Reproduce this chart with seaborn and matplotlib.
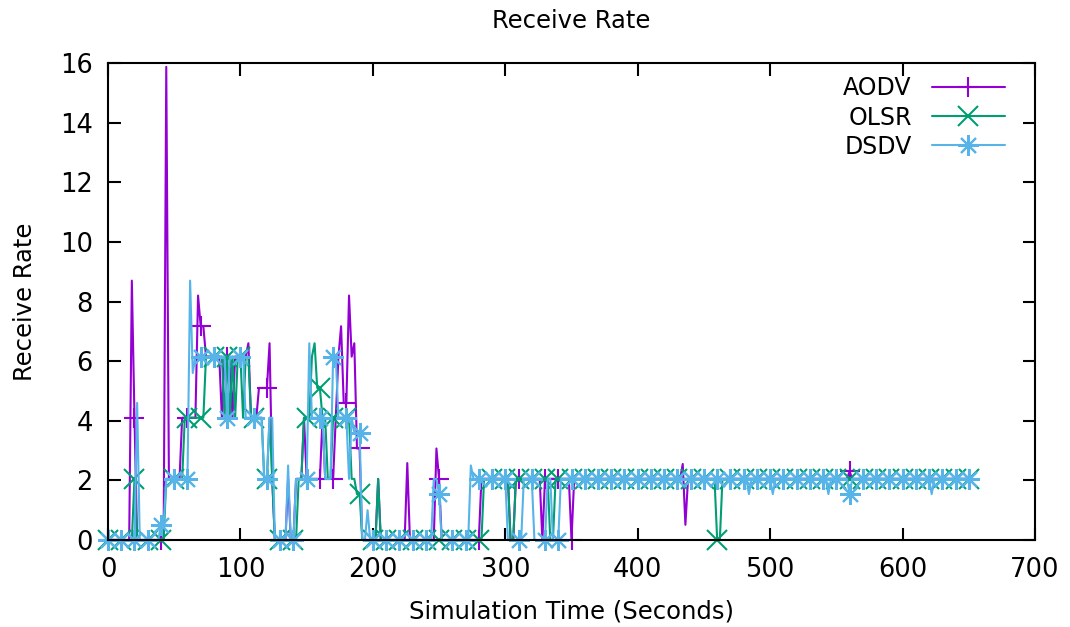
import numpy as np
import pandas as pd
import matplotlib
matplotlib.use("Agg")
import matplotlib.pyplot as plt
import seaborn as sns

# ---------------- DATA (one sample every 2 s, rows of 50 s) ----------------
time_s = np.arange(0, 651, 2)

aodv = (
    [0, 0, 0, 0, 0, 0, 0, 0, 0, 8.7, 4.1, 0, 0, 0, 0, 0, 0, 0, 0, 0, 0, 0, 15.87, 2.05, 2.05]
    + [2.05, 2.05, 2.05, 4.1, 4.1, 4.1, 4.1, 4.1, 4.1, 8.2, 7.17, 7.17, 6.15, 6.15, 6.15, 6.15, 6.15, 6.15, 4.1, 6.15, 6.15, 6.15, 4.1, 6.15, 6.15]
    + [6.15, 6.15, 6.15, 6.6, 4.1, 4.1, 4.1, 5.1, 5.1, 5.1, 5.1, 6.6, 2.05, 0, 0, 0, 0, 0, 2.05, 0, 0, 2.05, 2.05, 2.05, 4.1]
    + [2.05, 2.05, 2.05, 2.05, 2.05, 2.05, 4.1, 2.05, 2.05, 2.05, 2.05, 4.1, 6.15, 7.17, 4.6, 4.6, 8.2, 6.15, 6.6, 3.07, 3.07, 0, 0, 0, 0]
    + [0, 0, 2.05, 0, 0, 0, 0, 0, 0, 0, 0, 0, 0, 2.58, 0, 0, 0, 0, 0, 0, 0, 0, 0, 0, 3.07]
    + [2.05] + [0] * 15 + [2.05] * 9
    + [2.05, 2.05, 0, 0] + [2.05] * 10 + [0] + [2.05] * 10
    + [0] + [2.05] * 24
    + [2.05] * 17 + [2.55, 0.51] + [2.05] * 6
    + [2.05] * 25
    + [2.05] * 25
    + [2.05] * 5 + [2.3] + [2.05] * 19
    + [2.05] * 25
    + [2.05]
)

olsr = (
    [0] * 10 + [2.05] + [0] * 11 + [2.05] * 3
    + [2.05, 2.05, 2.05, 2.05, 4.1, 4.1, 4.1, 4.1, 4.1, 4.1, 4.1, 4.1, 6.15, 6.15, 6.15, 6.15, 6.15, 6.15, 6.15, 4.1, 6.15, 4.1, 6.15, 4.1, 6.15]
    + [6.15, 4.1, 6.15, 6.15, 4.1, 4.1, 4.1, 4.1, 4.1, 2.05, 2.05, 4.1, 2.05, 0, 0, 0, 0, 0, 0, 0, 0, 0, 2.05, 2.05, 4.1]
    + [4.1, 4.1, 6.15, 6.6, 5.1, 5.1, 4.1, 4.1, 2.05, 2.05, 4.1, 4.1, 4.1, 4.1, 4.1, 4.1, 4.1, 2.05, 2.05, 1.54, 1.54, 0, 0, 0, 0]
    + [0, 0, 2.05] + [0] * 22
    + [0] * 17 + [2.05] * 8
    + [2.05, 2.05, 0, 0] + [2.05] * 13 + [0, 0] + [2.05] * 6
    + [2.05] * 25
    + [2.05] * 25
    + [2.05] * 5 + [0, 0] + [2.05] * 18
    + [2.05] * 25
    + [2.05] * 25
    + [2.05] * 25
    + [2.05]
)

dsdv = (
    [0] * 11 + [4.6] + [0] * 8 + [0.51, 0.51] + [2.05] * 3
    + [2.05] * 6 + [8.7, 5.6] + [6.15] * 12 + [4.1] + [6.15] * 4
    + [6.15, 6.15, 4.1, 4.1, 4.1, 4.1, 4.1, 4.1, 4.1, 2.05, 2.05, 4.1, 4.1, 0, 0, 0, 0, 0, 2.5, 0, 0, 2.05, 2.05, 2.05, 2.05]
    + [2.05, 6.6, 4.1, 4.1, 4.1, 4.1, 4.1, 2.05, 2.05, 2.05, 6.15, 6.15, 4.1, 4.1, 4.1, 4.1, 2.05, 4.1, 3.6, 3.6, 3.6, 0, 0, 1.0, 0]
    + [0] * 23 + [2.05, 2.05]
    + [1.54] + [0] * 11 + [2.5] + [2.05] * 12
    + [2.05, 0, 0, 0, 0, 0, 0, 2.05, 2.05, 2.05, 2.05, 0, 0, 0, 0, 0, 2.05, 2.05, 0, 0, 0, 2.05, 2.05, 2.05, 2.05]
    + [2.05] * 25
    + [2.05] * 25
    + [2.05] * 17 + [1.54] + [2.05] * 7
    + [2.05, 1.54] + [2.05] * 20 + [1.54] + [2.05] * 2
    + [2.05] * 5 + [1.54] + [2.05] * 19
    + [2.05] * 11 + [1.54] + [2.05] * 13
    + [2.05]
)

protocols = ["AODV", "OLSR", "DSDV"]
series = [aodv, olsr, dsdv]
colors = ["#9400d3", "#009e73", "#56b4e9"]
markers = ["+", "x", (8, 2, 0)]

# ---------------- FIGURE ----------------
sns.set_style("ticks")
plt.rcParams["font.family"] = ["DejaVu Sans"]
plt.rcParams["text.color"] = "black"
plt.rcParams["axes.labelcolor"] = "black"
plt.rcParams["xtick.color"] = "black"
plt.rcParams["ytick.color"] = "black"

fig = plt.figure(figsize=(10.70, 6.27), dpi=100)
ax = fig.add_axes([108 / 1070, 1 - 540 / 627, 927 / 1070, 477 / 627])

for name, vals, col, mk in zip(protocols, series, colors, markers):
    df = pd.DataFrame({"t": time_s, "v": vals})
    sns.lineplot(data=df, x="t", y="v", ax=ax, color=col, lw=1.5,
                 marker=mk, markersize=15, markevery=5,
                 markeredgecolor=col, markeredgewidth=1.5,
                 estimator=None, label=name, clip_on=False)

ax.set_xlim(0, 700)
ax.set_ylim(0, 16)
ax.set_xticks(range(0, 701, 100))
ax.set_yticks(range(0, 17, 2))
ax.tick_params(direction="in", length=9, width=1.5, labelsize=18.5,
               top=True, right=True)
ax.tick_params(axis="x", pad=12)
ax.tick_params(axis="y", pad=11)
for sp in ax.spines.values():
    sp.set_linewidth(1.5)
    sp.set_color("black")
    sp.set_zorder(3)

ax.set_title("Receive Rate", fontsize=17.5, pad=25)
ax.set_xlabel("Simulation Time (Seconds)", fontsize=17.5, labelpad=12)
ax.set_ylabel("Receive Rate", fontsize=17.5, labelpad=16)

# gnuplot-style key: label first, sample line on the right
ax.legend(loc="upper right", bbox_to_anchor=(0.9676, 0.972),
          frameon=False, markerfirst=False, borderpad=0, borderaxespad=0,
          fontsize=17, handlelength=3.1, labelspacing=0.22,
          handletextpad=0.85)

fig.savefig("out.png", dpi=100)
